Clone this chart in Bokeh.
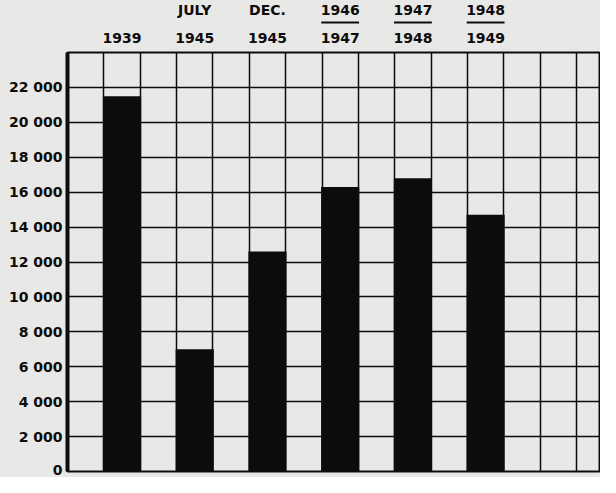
from bokeh.plotting import figure
from bokeh.layouts import column
from bokeh.models import FixedTicker, ColumnDataSource, Range1d
from bokeh.core.properties import value
from bokeh.embed import file_html
from bokeh.resources import INLINE

# ---- data ----
label_top = ["", "JULY", "DEC.", "1946", "1947", "1948"]
label_bottom = ["1939", "1945", "1945", "1947", "1948", "1949"]
is_fraction = [False, False, False, True, True, True]
values = [21500, 7000, 12600, 16300, 16800, 14700]
y_ticks = [0, 2000, 4000, 6000, 8000, 10000, 12000, 14000, 16000, 18000, 20000, 22000]
y_tick_labels = ["0", "2 000", "4 000", "6 000", "8 000", "10 000", "12 000",
                 "14 000", "16 000", "18 000", "20 000", "22 000"]

PAPER = "#e8e8e6"
INK = "#0c0c0c"
FONT = "DejaVu Sans"

LEFT = 67
WIDTH = 600
n_cols = 14.66
x_range = Range1d(0, n_cols)
bar_x = [2 * i + 1.5 for i in range(len(values))]

# ---- header figure (column titles) ----
hdr = figure(width=WIDTH, height=50, x_range=x_range, y_range=Range1d(0, 50),
             output_backend="svg", toolbar_location=None,
             x_axis_location=None, y_axis_location=None,
             min_border_left=LEFT, min_border_right=0, min_border_top=0, min_border_bottom=0,
             styles={"background-color": PAPER})
hdr.grid.visible = False
hdr.outline_line_color = None
hdr.background_fill_color = PAPER
hdr.border_fill_color = PAPER

src = ColumnDataSource(dict(x=bar_x, top=label_top, bottom=label_bottom))
hdr.text(x="x", y=41, text="top", source=src, text_font=value(FONT), text_font_style="bold",
         text_font_size="14px", text_align="center", text_baseline="middle", text_color=INK)
hdr.text(x="x", y=13, text="bottom", source=src, text_font=value(FONT), text_font_style="bold",
         text_font_size="14px", text_align="center", text_baseline="middle", text_color=INK)
fx = [x for x, f in zip(bar_x, is_fraction) if f]
hdr.segment(x0=[x - 0.52 for x in fx], x1=[x + 0.52 for x in fx], y0=28, y1=28,
            line_color=INK, line_width=2)

# ---- main chart ----
p = figure(width=WIDTH, height=427, x_range=x_range, y_range=Range1d(0, 24000),
           output_backend="svg", toolbar_location=None, x_axis_location=None,
           min_border_left=LEFT, min_border_right=0, min_border_top=2, min_border_bottom=6,
           styles={"background-color": PAPER})
p.background_fill_color = PAPER
p.border_fill_color = PAPER
p.outline_line_color = INK
p.outline_line_width = 2

p.vbar(x=bar_x, top=values, bottom=0, width=1.05, fill_color=INK, line_color=None)

p.xgrid.ticker = FixedTicker(ticks=list(range(1, 15)))
p.xgrid.grid_line_color = INK
p.xgrid.grid_line_width = 1.5
p.ygrid.ticker = FixedTicker(ticks=y_ticks)
p.ygrid.grid_line_color = INK
p.ygrid.grid_line_width = 1.5

ax = p.yaxis[0]
ax.ticker = FixedTicker(ticks=y_ticks)
ax.major_label_overrides = {t: l for t, l in zip(y_ticks, y_tick_labels)}
ax.axis_line_color = INK
ax.axis_line_width = 4
ax.major_tick_line_color = None
ax.minor_tick_line_color = None
ax.major_tick_in = 0
ax.major_tick_out = 0
ax.minor_tick_in = 0
ax.minor_tick_out = 0
ax.major_label_standoff = 5
ax.major_label_text_font = FONT
ax.major_label_text_font_style = "bold"
ax.major_label_text_font_size = "14px"
ax.major_label_text_color = INK

layout = column(hdr, p, spacing=0, styles={"background-color": PAPER})
open("out.html", "w").write(file_html(layout, INLINE))
